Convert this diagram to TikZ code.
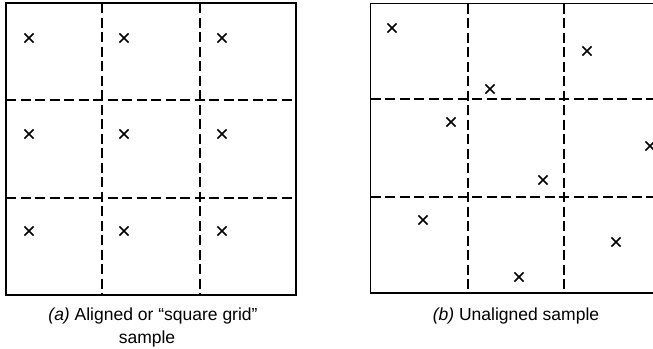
\documentclass[tikz,border=0pt]{standalone}
\usepackage{fontspec}
\setmainfont{Liberation Sans}
\usetikzlibrary{shapes.misc}
\begin{document}
\begin{tikzpicture}[x=1pt,y=-1pt,
  frame/.style={line width=1.9pt},
  divider/.style={line width=1.5pt, dash pattern=on 10pt off 4.5pt},
  cross/.style={cross out, draw, line width=1.7pt, minimum size=7.5pt, inner sep=0pt},
  caption/.style={font=\fontsize{17.5}{20}\selectfont, align=center, anchor=base}]
\useasboundingbox (0,0) rectangle (653,348);
% (a) aligned
\draw[frame] (6,3) rectangle (296,295);
\draw[divider] (102,3) -- (102,295);
\draw[divider] (200,3) -- (200,295);
\draw[divider] (6,100) -- (296,100);
\draw[divider] (6,198) -- (296,198);
\foreach \i/\x in {1/29,2/124,3/222}{
  \foreach \j/\y in {1/38,2/134,3/231}{
    \node[cross] (a\i\j) at (\x,\y) {};
  }
}
\node[caption] (capa) at (153,320) {\textit{(a)} Aligned or “square grid”};
\node[caption] (capa2) at (147,343) {sample};
% (b) unaligned
\begin{scope}
\clip (360,0) rectangle (653,300);
\draw[frame] (653,3.5) -- (370.5,3.5) -- (370.5,293) -- (653,293);
\end{scope}
\draw[divider] (468,3.5) -- (468,293);
\draw[divider] (564,3.5) -- (564,293);
\draw[divider] (370.5,99) -- (653,99);
\draw[divider] (370.5,197) -- (653,197);
\foreach \n/\x/\y in {1/392/28, 2/587/51, 3/490/89, 4/451/122, 5/650/146, 6/543/180, 7/423/220, 8/616/242, 9/519/277}{
  \node[cross] (b\n) at (\x,\y) {};
}
\node[caption] (capb) at (516,320) {\textit{(b)} Unaligned sample};
\end{tikzpicture}
\end{document}
